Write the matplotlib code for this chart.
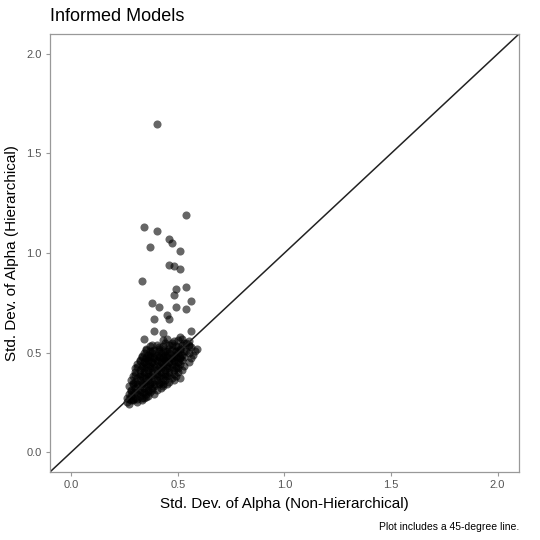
import numpy as np
import matplotlib.pyplot as plt

plt.rcParams['font.family'] = ['Liberation Sans', 'DejaVu Sans']

# Desviaciones estándar de alpha: modelo no jerárquico vs jerárquico
sd_nonhier = [
    # valores atípicos
    0.40, 0.54, 0.34, 0.40, 0.46, 0.47, 0.37, 0.51, 0.46, 0.48, 0.51, 0.33,
    0.54, 0.49, 0.48, 0.38, 0.41, 0.56, 0.49, 0.54, 0.45, 0.39, 0.46, 0.39,
    0.43, 0.34, 0.51, 0.56, 0.59,
    # núcleo
    0.26, 0.27, 0.29, 0.31, 0.33, 0.28,
    0.26, 0.28, 0.30, 0.32, 0.34, 0.36, 0.27,
    0.29, 0.31, 0.33, 0.35, 0.37, 0.39, 0.28,
    0.30, 0.32, 0.34, 0.36, 0.38, 0.40, 0.42, 0.27,
    0.29, 0.31, 0.33, 0.35, 0.37, 0.39, 0.41, 0.43, 0.45,
    0.28, 0.30, 0.32, 0.34, 0.36, 0.38, 0.40, 0.42, 0.44, 0.46, 0.48,
    0.29, 0.31, 0.33, 0.35, 0.37, 0.39, 0.41, 0.43, 0.45, 0.47, 0.49, 0.51,
    0.30, 0.32, 0.34, 0.36, 0.38, 0.40, 0.42, 0.44, 0.46, 0.48, 0.50, 0.52,
    0.30, 0.32, 0.34, 0.36, 0.38, 0.40, 0.42, 0.44, 0.46, 0.48, 0.50, 0.53,
    0.31, 0.33, 0.35, 0.37, 0.39, 0.41, 0.43, 0.45, 0.47, 0.49, 0.51, 0.55,
    0.32, 0.34, 0.36, 0.38, 0.40, 0.42, 0.44, 0.46, 0.48, 0.50, 0.52, 0.56,
    0.33, 0.35, 0.37, 0.39, 0.41, 0.43, 0.45, 0.47, 0.49, 0.51, 0.53, 0.57,
    0.34, 0.36, 0.38, 0.40, 0.42, 0.44, 0.46, 0.48, 0.50, 0.52, 0.55, 0.58,
    0.35, 0.38, 0.41, 0.44, 0.46, 0.49, 0.51, 0.54, 0.56,
    0.38, 0.41, 0.44, 0.47, 0.50, 0.53, 0.55,
    0.45, 0.48, 0.52, 0.55,
    # segunda capa del núcleo
    0.27, 0.29, 0.31, 0.33, 0.35,
    0.28, 0.30, 0.32, 0.34, 0.36, 0.38,
    0.29, 0.31, 0.33, 0.35, 0.37, 0.39, 0.41, 0.43,
    0.30, 0.32, 0.34, 0.36, 0.38, 0.40, 0.42, 0.44, 0.46,
    0.31, 0.33, 0.35, 0.37, 0.39, 0.41, 0.43, 0.45, 0.47, 0.49,
    0.32, 0.34, 0.36, 0.38, 0.40, 0.42, 0.44, 0.46, 0.48, 0.50,
    0.33, 0.35, 0.37, 0.39, 0.41, 0.43, 0.45, 0.47, 0.49, 0.51,
    0.35, 0.37, 0.39, 0.41, 0.43, 0.45, 0.47, 0.49, 0.51, 0.53,
    0.37, 0.40, 0.43, 0.46, 0.49, 0.52, 0.55,
    0.43, 0.47, 0.50, 0.54,
]
sd_hier = [
    1.65, 1.19, 1.13, 1.11, 1.07, 1.05, 1.03, 1.01, 0.94, 0.935, 0.92, 0.86,
    0.83, 0.82, 0.79, 0.75, 0.73, 0.76, 0.73, 0.72, 0.69, 0.67, 0.67, 0.61,
    0.60, 0.57, 0.58, 0.61, 0.52,
    0.25, 0.24, 0.26, 0.25, 0.26, 0.26,
    0.27, 0.28, 0.27, 0.28, 0.27, 0.28, 0.29,
    0.30, 0.29, 0.30, 0.29, 0.30, 0.29, 0.31,
    0.32, 0.31, 0.32, 0.31, 0.32, 0.31, 0.32, 0.33,
    0.34, 0.33, 0.34, 0.33, 0.34, 0.33, 0.34, 0.33, 0.34,
    0.36, 0.35, 0.36, 0.35, 0.36, 0.35, 0.36, 0.35, 0.36, 0.35, 0.36,
    0.38, 0.37, 0.38, 0.37, 0.38, 0.37, 0.38, 0.37, 0.38, 0.37, 0.38, 0.37,
    0.40, 0.39, 0.40, 0.39, 0.40, 0.39, 0.40, 0.39, 0.40, 0.39, 0.40, 0.41,
    0.42, 0.41, 0.42, 0.41, 0.42, 0.41, 0.42, 0.41, 0.42, 0.41, 0.42, 0.43,
    0.44, 0.43, 0.44, 0.43, 0.44, 0.43, 0.44, 0.43, 0.44, 0.43, 0.44, 0.45,
    0.46, 0.45, 0.46, 0.45, 0.46, 0.45, 0.46, 0.45, 0.46, 0.45, 0.46, 0.47,
    0.48, 0.47, 0.48, 0.47, 0.48, 0.47, 0.48, 0.47, 0.48, 0.47, 0.48, 0.49,
    0.50, 0.49, 0.50, 0.49, 0.50, 0.49, 0.50, 0.49, 0.50, 0.49, 0.50, 0.51,
    0.52, 0.51, 0.52, 0.51, 0.52, 0.51, 0.52, 0.51, 0.53,
    0.54, 0.53, 0.55, 0.54, 0.53, 0.55, 0.54,
    0.57, 0.56, 0.57, 0.56,
    0.265, 0.265, 0.265, 0.27, 0.275,
    0.305, 0.30, 0.30, 0.30, 0.305, 0.31,
    0.345, 0.34, 0.345, 0.34, 0.345, 0.34, 0.345, 0.34,
    0.385, 0.38, 0.385, 0.38, 0.385, 0.38, 0.385, 0.38, 0.385,
    0.425, 0.42, 0.425, 0.42, 0.425, 0.42, 0.425, 0.42, 0.425, 0.42,
    0.455, 0.45, 0.455, 0.45, 0.455, 0.45, 0.455, 0.45, 0.455, 0.45,
    0.485, 0.48, 0.485, 0.48, 0.485, 0.48, 0.485, 0.48, 0.485, 0.48,
    0.515, 0.51, 0.515, 0.51, 0.515, 0.51, 0.515, 0.51, 0.515, 0.51,
    0.535, 0.54, 0.535, 0.54, 0.535, 0.54, 0.535,
    0.565, 0.55, 0.565, 0.55,
]

lims = [-0.1, 2.1]
ticks = [0.0, 0.5, 1.0, 1.5, 2.0]
gris = '#555555'

fig = plt.figure(figsize=(5.4, 5.4), dpi=100)
ax = fig.add_axes([0.0926, 0.126, 0.8684, 0.811])

ax.scatter(sd_nonhier, sd_hier, s=34, color='black', alpha=0.6, linewidths=0)
ax.plot(lims, lims, color='#222222', lw=1.1)

ax.set_xlim(lims)
ax.set_ylim(lims)
ax.set_xticks(ticks)
ax.set_yticks(ticks)
ax.set_xticklabels([f'{t:.1f}' for t in ticks])
ax.set_yticklabels([f'{t:.1f}' for t in ticks])
ax.tick_params(length=3, width=0.8, color='#999999', labelcolor=gris,
               labelsize=8, pad=3)
for sp in ax.spines.values():
    sp.set_color('#999999')
    sp.set_linewidth(0.9)

ax.set_xlabel('Std. Dev. of Alpha (Non-Hierarchical)', fontsize=11, labelpad=5)
ax.set_ylabel('Std. Dev. of Alpha (Hierarchical)', fontsize=11, labelpad=5)
fig.text(0.0926, 0.962, 'Informed Models', fontsize=13, ha='left', va='baseline')
fig.text(0.961, 0.018, 'Plot includes a 45-degree line.', fontsize=7.5,
         ha='right', va='baseline')

fig.savefig('out.png', dpi=100)
